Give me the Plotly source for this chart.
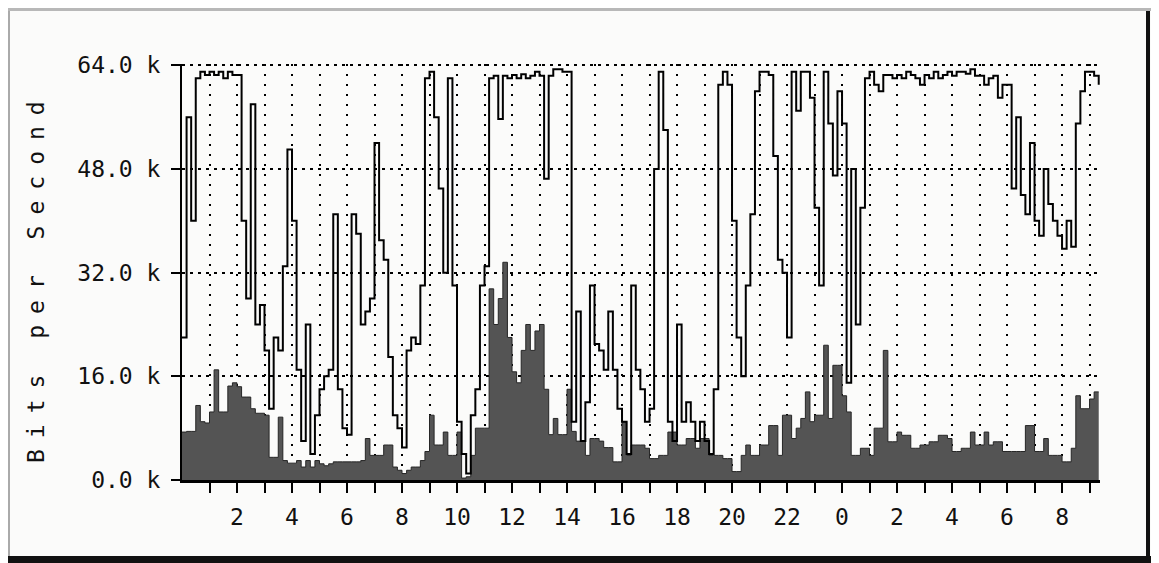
import plotly.graph_objects as go

# ---- data (k bits/s), one sample every 10 minutes, starting at 0:00 ----
sample_step_h = 1 / 6
out_k = [
    22, 56, 40, 62, 63, 62.5,
    63, 62.5, 63, 62, 63, 62.5,
    62.5, 40, 28, 58, 24, 27,
    20, 11, 22, 20, 33, 51,
    40, 17, 6, 24, 4, 10,
    14, 16, 17, 41, 14, 8,
    7, 41, 38, 24, 26, 28,
    52, 37, 34, 19, 10, 8,
    5, 20, 22, 21, 30, 62,
    63, 56, 45, 32, 62, 30,
    9, 4, 1, 10, 14, 30,
    33, 62, 62.4, 55.7, 62.4, 62,
    62.5, 62, 62.6, 62, 62.4, 63,
    62.4, 46.5, 62.4, 63.4, 63.4, 63,
    63, 9, 26, 6, 12, 30,
    21, 20, 17, 26, 17, 11,
    9, 4, 30, 17, 14, 9,
    11, 48, 63, 54, 9, 6,
    24, 9, 12, 9, 6, 9,
    6, 4, 14, 61, 63, 61,
    40, 22, 16, 30, 41, 60,
    63, 63, 62.5, 50, 34, 32,
    22, 63, 57, 63, 63, 59,
    42, 30, 63, 55, 47, 60,
    55, 15, 48, 24, 42, 62,
    63, 61, 60, 62.5, 62.5, 62,
    62.5, 62, 63, 62.5, 62, 61,
    62.5, 62, 63, 62, 62.5, 63,
    62.4, 63, 63, 62.7, 63.4, 62.4,
    62.4, 61, 62, 62.4, 59, 61,
    61, 45, 56, 44, 41, 52,
    40, 37.7, 48, 42.6, 40, 37.7,
    35.7, 40, 36, 55, 60, 63,
    63, 62.4, 61,
]
in_k = [
    7.4, 7.5, 7.5, 11.5, 9, 8.8,
    10.5, 17, 10.5, 10.5, 14.5, 15,
    14.4, 12.8, 12.8, 11, 10.3, 10.3,
    10, 3.5, 3.5, 9.7, 3, 2.6,
    2.6, 3, 2, 3, 2, 3,
    2.5, 2.2, 2.5, 2.8, 2.8, 2.8,
    2.8, 2.8, 2.8, 3, 6.4, 3.8,
    3.8, 3.8, 5.4, 5.4, 2, 1.5,
    1, 1.5, 2, 2, 3, 4.4,
    10, 5.4, 5.4, 7.4, 3.8, 3.8,
    7.4, 0.3, 0.5, 3.8, 8, 8,
    8, 29.5, 24, 28, 33.6, 22,
    16.7, 15, 20, 24, 20, 23,
    24, 14, 7, 9.5, 7, 7,
    14, 7.5, 6, 6, 3.8, 6.4,
    6.4, 6, 5, 5, 2.8, 2.8,
    9, 3.8, 5.4, 5.4, 5.4, 4.9,
    3.3, 3.3, 3.8, 3.8, 7.4, 7.4,
    5.4, 5.4, 6.4, 6.4, 4.9, 6.4,
    6.4, 3.8, 3.8, 3.8, 3.3, 3.3,
    1.3, 1.3, 3.8, 5.4, 3.8, 3.8,
    5.4, 5.4, 8.4, 8.4, 3.8, 10,
    10, 6.4, 8, 9.5, 13.6, 9,
    10, 10, 20.8, 9.5, 17.7, 17.7,
    13, 10.5, 3.8, 3.8, 4.9, 4.9,
    3.8, 8, 8, 20, 5.9, 5.9,
    7.4, 6.9, 6.9, 4.9, 4.9, 5.4,
    5.4, 5.9, 5.9, 6.9, 6.9, 6.4,
    4.4, 4.4, 4.9, 4.9, 7.4, 5.4,
    5.4, 7.4, 5.4, 5.9, 5.9, 4.4,
    4.4, 4.4, 4.4, 4.4, 8.4, 8.4,
    4.4, 4.4, 6.4, 3.8, 3.8, 3.8,
    2.8, 2.8, 4.9, 13, 11, 11,
    12.5, 13.6, 13.6,
]
hours = [i * sample_step_h for i in range(len(out_k))]

x_tick_hours = list(range(1, 34))
x_tick_labels = ["2", "4", "6", "8", "10", "12", "14", "16", "18", "20", "22",
                 "0", "2", "4", "6", "8"]
y_tick_vals = [0, 16, 32, 48, 64]
y_tick_labels = ["0.0 k", "16.0 k", "32.0 k", "48.0 k", "64.0 k"]

# ---- layout geometry (page pixels; the page body adds an 8px offset) ----
OFF = 8
W, H = 1159 - OFF, 563 - OFF
L, T = 182 - OFF, 64 - OFF
R = W - (1100 - OFF)
B = H - (480 - OFF)
pw, ph = W - L - R, H - T - B
X_MAX, Y_MAX = 33.38, 64.2


def px(xp):
    return (xp - OFF - L) / pw


def py(yp):
    return (H - B - (yp - OFF)) / ph


ticktext = []
lab = iter(x_tick_labels)
for h in x_tick_hours:
    ticktext.append(next(lab) if h % 2 == 0 else "")

FONT = "DejaVu Sans Mono"

fig = go.Figure()
fig.add_trace(go.Scatter(
    x=hours, y=in_k, mode="lines", line_shape="hv",
    line=dict(color="#262626", width=1), fill="tozeroy",
    fillcolor="#545454", hoverinfo="skip", showlegend=False))
fig.add_trace(go.Scatter(
    x=hours, y=out_k, mode="lines", line_shape="hv",
    line=dict(color="#000000", width=2), hoverinfo="skip", showlegend=False))

fig.update_layout(
    width=W, height=H,
    margin=dict(l=L, r=R, t=T, b=B, pad=0),
    paper_bgcolor="#fbfbfa", plot_bgcolor="#fbfbfa",
    font=dict(family=FONT, size=23, color="#111"),
    xaxis=dict(
        range=[0, X_MAX], tickmode="array", tickvals=x_tick_hours, ticktext=ticktext,
        ticks="outside", ticklen=10, tickwidth=2, tickcolor="#000",
        showgrid=True, gridcolor="#000", gridwidth=2, griddash="2px,8px",
        showline=True, linecolor="#000", linewidth=3, zeroline=False,
        tickfont=dict(family=FONT, size=23, color="#111"),
        ticklabelstandoff=4,
    ),
    yaxis=dict(
        range=[0, Y_MAX], tickmode="array", tickvals=y_tick_vals, ticktext=y_tick_labels,
        ticks="outside", ticklen=9, tickwidth=2, tickcolor="#000",
        showgrid=True, gridcolor="#000", gridwidth=2, griddash="3px,5px",
        showline=True, linecolor="#000", linewidth=2, zeroline=False,
        tickfont=dict(family=FONT, size=23, color="#111"),
        ticklabelstandoff=6,
    ),
    annotations=[dict(
        text='<span style="letter-spacing:11px">Bits per Second</span>',
        xref="paper", yref="paper", x=px(36), y=py(277),
        textangle=-90, showarrow=False, xanchor="center", yanchor="middle",
        font=dict(family=FONT, size=23, color="#111"),
    )],
    shapes=[
        dict(type="rect", xref="paper", yref="paper", x0=px(OFF), x1=px(1159),
             y0=py(11), y1=py(OFF), fillcolor="#b8b8b8", line_width=0, layer="above"),
        dict(type="rect", xref="paper", yref="paper", x0=px(OFF), x1=px(1159),
             y0=py(563), y1=py(556), fillcolor="#111", line_width=0, layer="above"),
        dict(type="rect", xref="paper", yref="paper", x0=px(1146), x1=px(1150),
             y0=py(556), y1=py(11), fillcolor="#111", line_width=0, layer="above"),
        dict(type="rect", xref="paper", yref="paper", x0=px(OFF), x1=px(OFF + 2),
             y0=py(556), y1=py(11), fillcolor="#aaa", line_width=0, layer="above"),
    ],
)

fig.write_html("out.html")
